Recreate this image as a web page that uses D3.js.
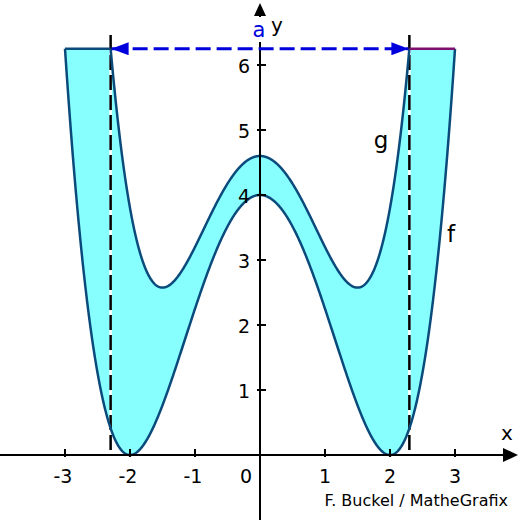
<!DOCTYPE html>
<html lang="de">
<head>
    <meta charset="UTF-8">
    <title>Fläche zwischen f und g</title>
    <script src="https://d3js.org/d3.v7.min.js"></script>
    <style>
        body { margin: 0; background: #fff; }
        text { font-family: "DejaVu Sans", Verdana, sans-serif; }
    </style>
</head>
<body>
<div id="chart"></div>
<script>
    // polynomial coefficients c0..c4
    const fCoef = [4, 0, -2, 0, 0.25];     // f(x) = (x^2-4)^2 / 4
    const gCoef = [4.6, 0, -1.8, 0, 0.4];  // g: max 4.6, minima near x=±1.5
    const xRange = [-3, 3];
    const yTop = 6.25;
    const xTicks = [-3, -2, -1, 1, 2, 3];
    const yTicks = [1, 2, 3, 4, 5, 6];

    const poly = c => x => c.reduce((s, ci, i) => s + ci * Math.pow(x, i), 0);
    const f = poly(fCoef);
    const g = poly(gCoef);

    // where g hits the top line (the length a)
    function solveA() {
        let lo = 1.5, hi = 3;
        for (let i = 0; i < 60; i++) {
            const mid = (lo + hi) / 2;
            if (g(mid) < yTop) lo = mid; else hi = mid;
        }
        return (lo + hi) / 2;
    }
    const a = solveA();

    function drawChart(width, height) {
        const svg = d3.select("#chart").append("svg")
            .attr("width", width)
            .attr("height", height);

        const x = d3.scaleLinear().domain([-4, 4]).range([0, 520]);
        const y = d3.scaleLinear().domain([-1, 7]).range([520, 0]);

        const defs = svg.append("defs");
        function arrow(id, color, w, h) {
            defs.append("marker")
                .attr("id", id)
                .attr("viewBox", `0 0 ${w} ${h}`)
                .attr("refX", w).attr("refY", h / 2)
                .attr("markerWidth", w).attr("markerHeight", h)
                .attr("markerUnits", "userSpaceOnUse")
                .attr("orient", "auto-start-reverse")
                .append("path")
                .attr("d", `M0,0L${w},${h / 2}L0,${h}Z`)
                .attr("fill", color);
        }
        arrow("blueArrow", "#0000dd", 17, 13);

        const step = 0.005;
        const xs = d3.range(xRange[0], xRange[1] + step / 2, step);

        // fill between f and min(g, top)
        const area = d3.area()
            .x(d => x(d))
            .y0(d => y(f(d)))
            .y1(d => y(Math.min(g(d), yTop)));
        svg.append("path")
            .attr("d", area(xs))
            .attr("fill", "#88ffff");

        // dashed verticals at ±a
        [-a, a].forEach(v => {
            svg.append("line")
                .attr("x1", x(v)).attr("x2", x(v))
                .attr("y1", 35).attr("y2", y(0))
                .attr("stroke", "#fff").attr("stroke-width", 2.5);
            svg.append("line")
                .attr("x1", x(v)).attr("x2", x(v))
                .attr("y1", 35).attr("y2", y(0))
                .attr("stroke", "#000").attr("stroke-width", 2.5)
                .attr("stroke-dasharray", "15,5");
        });

        const line = d3.line().x(d => x(d[0])).y(d => y(d[1]));
        const curveCol = "#0a4b7c";

        svg.append("path")
            .attr("d", line(xs.map(d => [d, f(d)])))
            .attr("fill", "none").attr("stroke", curveCol).attr("stroke-width", 2.5);

        const gxs = d3.range(-a, a + step / 2, step).concat([a]);
        svg.append("path")
            .attr("d", line(gxs.map(d => [d, g(d)])))
            .attr("fill", "none").attr("stroke", curveCol).attr("stroke-width", 2.5);

        // top edges
        svg.append("line")
            .attr("x1", x(xRange[0])).attr("x2", x(-a))
            .attr("y1", y(yTop)).attr("y2", y(yTop))
            .attr("stroke", curveCol).attr("stroke-width", 2.5);
        svg.append("line")
            .attr("x1", x(a)).attr("x2", x(xRange[1]))
            .attr("y1", y(yTop)).attr("y2", y(yTop))
            .attr("stroke", "#801070").attr("stroke-width", 2.5);

        // axes
        svg.append("line")
            .attr("x1", 0).attr("x2", 505)
            .attr("y1", y(0)).attr("y2", y(0))
            .attr("stroke", "#000").attr("stroke-width", 2);
        svg.append("path")
            .attr("d", `M518,${y(0)}L503,${y(0) - 7}L503,${y(0) + 7}Z`)
            .attr("fill", "#000");
        svg.append("line")
            .attr("x1", x(0)).attr("x2", x(0))
            .attr("y1", 520).attr("y2", 14)
            .attr("stroke", "#000").attr("stroke-width", 2);
        svg.append("path")
            .attr("d", `M${x(0)},3L${x(0) - 6},16L${x(0) + 6},16Z`)
            .attr("fill", "#000");

        svg.selectAll(".xtick").data(xTicks).join("line")
            .attr("x1", d => x(d)).attr("x2", d => x(d))
            .attr("y1", y(0) - 6).attr("y2", y(0) + 2)
            .attr("stroke", "#000").attr("stroke-width", 2);
        svg.selectAll(".xlab").data(xTicks).join("text")
            .attr("x", d => x(d) - (d < 0 ? 2 : 0))
            .attr("y", 483)
            .attr("text-anchor", "middle")
            .attr("font-size", 19)
            .text(d => d);

        svg.selectAll(".ytick").data(yTicks).join("line")
            .attr("x1", x(0) - 3).attr("x2", x(0) + 6)
            .attr("y1", d => y(d)).attr("y2", d => y(d))
            .attr("stroke", "#000").attr("stroke-width", 2);
        svg.selectAll(".ylab").data(yTicks).join("text")
            .attr("x", 250)
            .attr("y", d => y(d) + 8)
            .attr("text-anchor", "end")
            .attr("font-size", 19)
            .text(d => d);
        svg.append("text")
            .attr("x", 252).attr("y", 483)
            .attr("text-anchor", "end")
            .attr("font-size", 19)
            .text("0");

        // blue double arrow for a
        svg.append("line")
            .attr("x1", x(-a) + 1).attr("x2", x(a) - 1)
            .attr("y1", y(yTop)).attr("y2", y(yTop))
            .attr("stroke", "#0000dd").attr("stroke-width", 3)
            .attr("stroke-dasharray", "15,6")
            .attr("marker-start", "url(#blueArrow)")
            .attr("marker-end", "url(#blueArrow)");

        // labels
        svg.append("rect").attr("x", 250).attr("y", 17)
            .attr("width", 18).attr("height", 25).attr("fill", "#fff");
        svg.append("text").attr("x", x(0) - 1).attr("y", 37)
            .attr("text-anchor", "middle").attr("font-size", 21)
            .attr("fill", "#0000dd").text("a");
        svg.append("text").attr("x", 277).attr("y", 32)
            .attr("text-anchor", "middle").attr("font-size", 20).text("y");
        svg.append("text").attr("x", 507).attr("y", 440)
            .attr("text-anchor", "middle").attr("font-size", 20).text("x");
        svg.append("text").attr("x", 381).attr("y", 148)
            .attr("text-anchor", "middle").attr("font-size", 23).text("g");
        svg.append("text").attr("x", 451).attr("y", 242)
            .attr("text-anchor", "middle").attr("font-size", 23).text("f");
        svg.append("text").attr("x", 508).attr("y", 506)
            .attr("text-anchor", "end").attr("font-size", 16)
            .text("F. Buckel / MatheGrafix");

        return svg.node();
    }

    document.addEventListener('DOMContentLoaded', () => {
        drawChart(520, 520);
    });
</script>
</body>
</html>
